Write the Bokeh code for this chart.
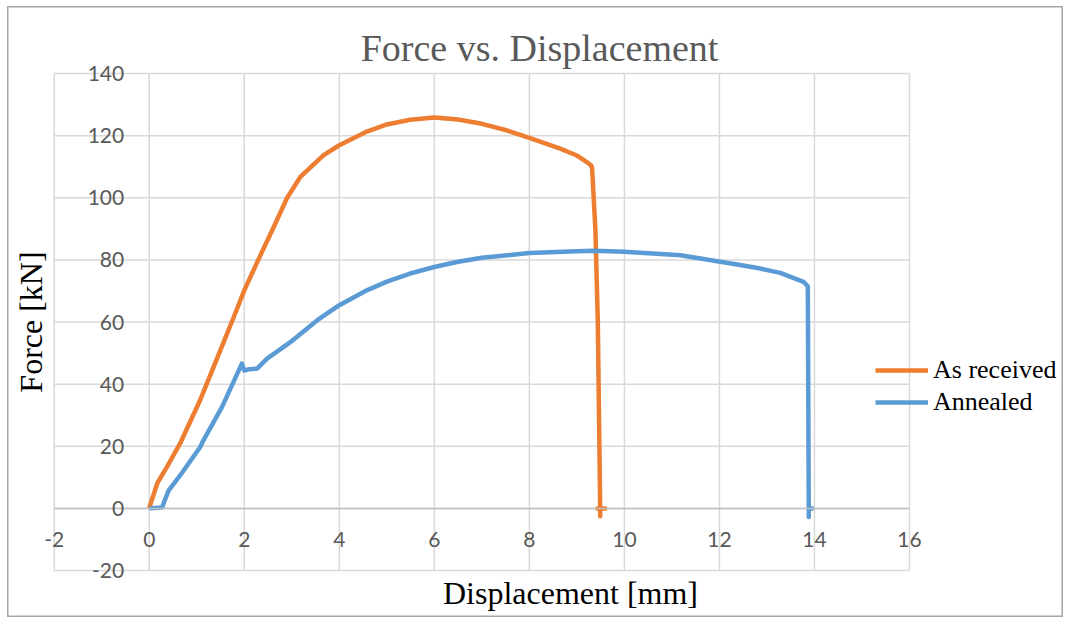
import math
from bokeh.plotting import figure
from bokeh.models import Range1d, FixedTicker, Label, Legend, LegendItem
from bokeh.embed import file_html
from bokeh.resources import INLINE

# Tensile test curves: displacement [mm] vs force [kN]
as_received_disp = [0, 0.05, 0.17, 0.37, 0.65, 1.07, 1.21, 1.5, 1.78, 2.0, 2.34,
                    2.62, 2.9, 3.18, 3.67, 4.0, 4.58, 5.0, 5.49, 6.0, 6.5, 7.0,
                    7.5, 8.0, 8.65, 9.0, 9.21, 9.3, 9.32, 9.34, 9.39, 9.44, 9.49,
                    9.49, 9.49, 9.43, 9.6, 9.5]
as_received_force = [0, 2.5, 8.1, 13.3, 20.9, 34.8, 40.1, 51.0, 61.6, 70.2, 81.5,
                     90.6, 99.9, 106.7, 113.7, 116.9, 121.3, 123.6, 125.1, 125.8,
                     125.2, 123.8, 121.8, 119.3, 115.8, 113.6, 111.5, 110.4, 109.5,
                     104.0, 89.5, 60.5, 0.5, -2.5, 0, 0, 0, 0]

annealed_disp = [0, 0.27, 0.3, 0.35, 0.41, 0.65, 1.07, 1.14, 1.53, 1.95, 2.0, 2.1,
                 2.27, 2.48, 2.97, 3.53, 4.0, 4.58, 5.0, 5.49, 6.0, 6.5, 7.0, 8.0,
                 9.0, 9.35, 10.0, 11.18, 12.02, 12.5, 12.86, 13.28, 13.77, 13.86,
                 13.88, 13.88, 13.88, 13.95, 13.88]
annealed_force = [0, 0.3, 1.5, 3.5, 5.8, 10.6, 19.7, 21.9, 32.6, 46.6, 44.4, 44.8,
                  45.0, 48.2, 53.5, 60.5, 65.4, 70.2, 73.0, 75.6, 77.7, 79.4, 80.7,
                  82.2, 82.8, 82.9, 82.6, 81.5, 79.4, 78.2, 77.2, 75.8, 72.9, 71.5,
                  0, -2.8, 0, 0, 0]

x_ticks = [-2, 0, 2, 4, 6, 8, 10, 12, 14, 16]
y_ticks = [-20, 0, 20, 40, 60, 80, 100, 120, 140]

ORANGE = "#ED7D31"
BLUE = "#5B9BD5"
GRID = "#d9d9d9"
LABEL = "#595959"
SERIF = "Liberation Serif"

# canvas size and the pixel box that the tick grid occupies inside it
W, H = 1056, 611
BOX_L, BOX_R, BOX_T, BOX_B = 46.7, 902.0, 67.0, 564.0
sx = (BOX_R - BOX_L) / (x_ticks[-1] - x_ticks[0])
sy = (BOX_B - BOX_T) / (y_ticks[-1] - y_ticks[0])
x_lo = x_ticks[0] - BOX_L / sx
y_hi = y_ticks[-1] + BOX_T / sy

p = figure(width=W, height=H, output_backend="svg", toolbar_location=None,
           x_range=Range1d(x_lo, x_lo + W / sx),
           y_range=Range1d(y_hi - H / sy, y_hi),
           min_border=0, margin=(6, 0, 0, 7))
p.outline_line_color = "#a6a6a6"
p.outline_line_width = 2
p.xgrid.grid_line_color = None
p.ygrid.grid_line_color = None

# gridlines spanning the tick box
n_x, n_y = len(x_ticks), len(y_ticks)
p.segment(x0=x_ticks, y0=[y_ticks[0]] * n_x, x1=x_ticks, y1=[y_ticks[-1]] * n_x,
          line_color=GRID, line_width=1.5)
p.segment(x0=[x_ticks[0]] * n_y, y0=y_ticks, x1=[x_ticks[-1]] * n_y, y1=y_ticks,
          line_color=GRID, line_width=1.5)

# axes crossing at the origin
p.xaxis.ticker = FixedTicker(ticks=x_ticks)
p.yaxis.ticker = FixedTicker(ticks=y_ticks)
p.xaxis.fixed_location = 0
p.yaxis.fixed_location = 0
p.xaxis.bounds = (x_ticks[0], x_ticks[-1])
p.yaxis.bounds = (y_ticks[0], y_ticks[-1])
p.xaxis.major_label_overrides = {t: str(t) for t in x_ticks}
p.yaxis.major_label_overrides = {t: str(t) for t in y_ticks}
for ax in (p.xaxis, p.yaxis):
    ax.major_tick_line_color = None
    ax.minor_tick_line_color = None
    ax.major_label_text_font = "Lato"
    ax.major_label_text_font_size = "21px"
    ax.major_label_text_color = LABEL
p.xaxis.axis_line_color = "#bfbfbf"
p.xaxis.axis_line_width = 1.5
p.yaxis.axis_line_color = None
p.xaxis.major_label_standoff = 18
p.yaxis.major_label_standoff = 19

r1 = p.line(as_received_disp, as_received_force, line_color=ORANGE, line_width=4.5,
            line_join="round")
r2 = p.line(annealed_disp, annealed_force, line_color=BLUE, line_width=4.5,
            line_join="round")

p.add_layout(Label(x=532, y=H - 41, x_units="screen", y_units="screen",
                   text="Force vs. Displacement", text_font=SERIF,
                   text_font_size="38px", text_color=LABEL, text_align="center",
                   text_baseline="alphabetic"))
p.add_layout(Label(x=563, y=25, x_units="screen", y_units="screen",
                   text="Displacement [mm]", text_font=SERIF,
                   text_font_size="32px", text_color="black", text_align="center",
                   text_baseline="alphabetic"))
p.add_layout(Label(x=23, y=H - (BOX_T + BOX_B) / 2, x_units="screen",
                   y_units="screen", angle=math.pi / 2,
                   text="Force [kN]", text_font=SERIF,
                   text_font_size="32px", text_color="black", text_align="center",
                   text_baseline="alphabetic"))

legend = Legend(items=[LegendItem(label="As received", renderers=[r1]),
                       LegendItem(label="Annealed", renderers=[r2])],
                location=(868, 200), border_line_color=None,
                background_fill_alpha=0, padding=0, margin=0, spacing=2,
                glyph_width=53, glyph_height=30, label_height=30,
                label_standoff=5, label_text_font=SERIF,
                label_text_font_size="26px", label_text_color="black")
p.add_layout(legend)

open("out.html", "w").write(file_html(p, INLINE))
